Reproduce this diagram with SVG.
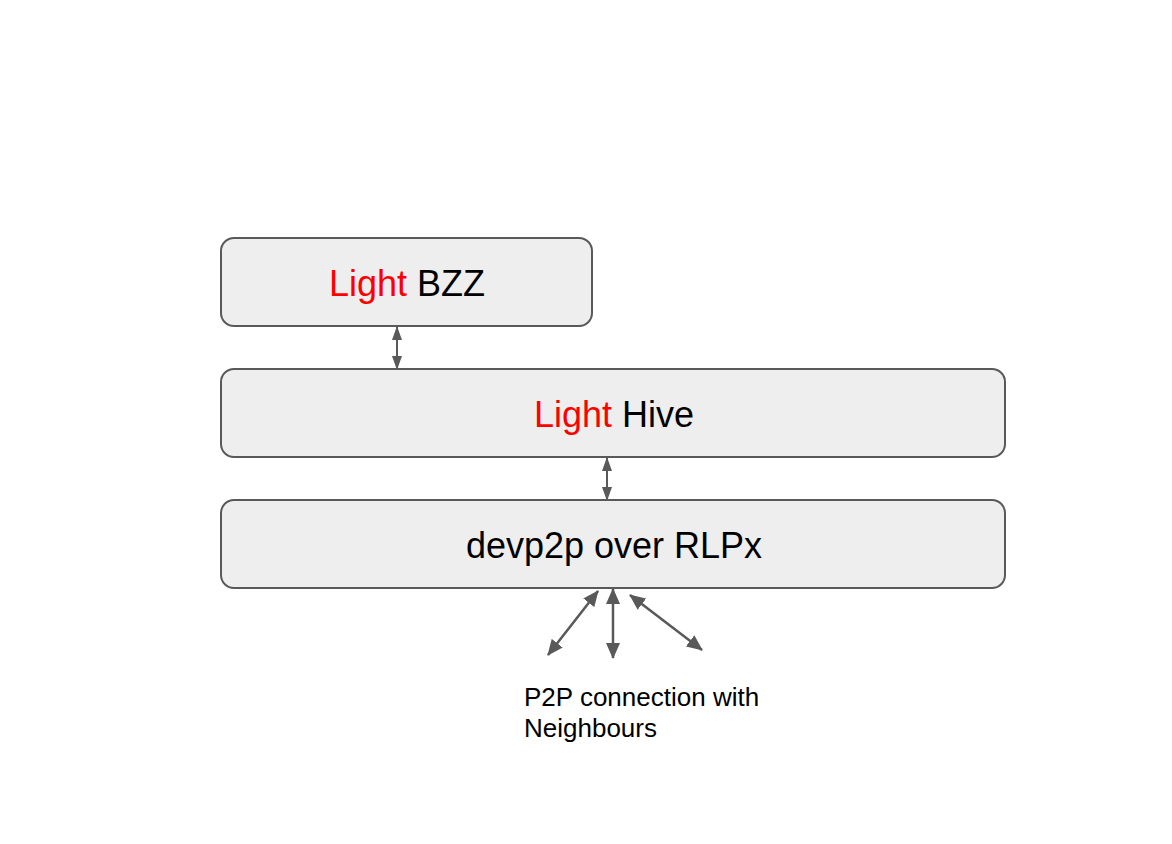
<svg xmlns="http://www.w3.org/2000/svg" width="1172" height="844" viewBox="0 0 1172 844">
<style>
.box{fill:#eeeeee;stroke:#595959;stroke-width:2}
.lbl{font-family:"Liberation Sans",Arial,sans-serif;font-size:36px;fill:#000000;text-anchor:middle}
.red{fill:#ff0000}
.note{font-family:"Liberation Sans",Arial,sans-serif;font-size:26px;fill:#000000}
.con{stroke:#595959;fill:none}
.thin{stroke-width:2;marker-start:url(#hs);marker-end:url(#hs)}
.thick{stroke-width:2.5;marker-start:url(#hl);marker-end:url(#hl)}
</style>
<defs>
<marker id="hs" viewBox="0 0 14 10" refX="13" refY="5" markerWidth="14" markerHeight="10" markerUnits="userSpaceOnUse" orient="auto-start-reverse">
<path d="M0,0 L14,5 L0,10 z" fill="#595959"/>
</marker>
<marker id="hl" viewBox="0 0 16 14" refX="15" refY="7" markerWidth="16" markerHeight="14" markerUnits="userSpaceOnUse" orient="auto-start-reverse">
<path d="M0,0 L16,7 L0,14 z" fill="#595959"/>
</marker>
</defs>
<rect width="1172" height="844" fill="#ffffff"/>
<g id="connectors">
<line class="con thin" x1="397" y1="327" x2="397" y2="369"/>
<line class="con thin" x1="607" y1="458" x2="607" y2="500"/>
<line class="con thick" x1="598" y1="591" x2="548" y2="655"/>
<line class="con thick" x1="613" y1="589" x2="613" y2="658"/>
<line class="con thick" x1="630" y1="595" x2="702" y2="650"/>
</g>
<g id="light-bzz">
<rect class="box" x="221" y="238" width="371" height="88" rx="13"/>
<text class="lbl" x="407" y="296"><tspan class="red">Light</tspan> BZZ</text>
</g>
<g id="light-hive">
<rect class="box" x="221" y="369" width="784" height="88" rx="13"/>
<text class="lbl" x="614" y="427"><tspan class="red">Light</tspan> Hive</text>
</g>
<g id="devp2p">
<rect class="box" x="221" y="500" width="784" height="88" rx="13"/>
<text class="lbl" x="614" y="558">devp2p over RLPx</text>
</g>
<g id="p2p-note">
<text class="note" x="524" y="706">P2P connection with</text>
<text class="note" x="524" y="737">Neighbours</text>
</g>
</svg>
